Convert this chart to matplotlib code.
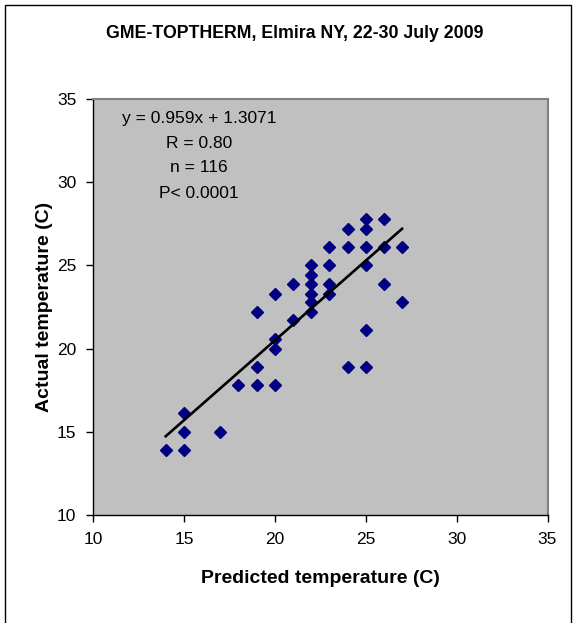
import numpy as np
import matplotlib.pyplot as plt
from matplotlib.patches import Rectangle

plt.rcParams['font.family'] = ['Liberation Sans', 'DejaVu Sans']

# predicted vs measured temperatures (distinct points shown on the chart)
predicted = [14, 15, 15, 15, 17, 18, 19, 20, 19, 19, 20, 20, 20, 21, 21,
             22, 22, 22, 22, 22, 22, 23, 23, 23, 23, 24, 24, 24,
             25, 25, 25, 25, 25, 25, 26, 26, 26, 27, 27]
actual = [13.9, 13.9, 15.0, 16.1, 15.0, 17.8, 17.8, 17.8, 18.9, 22.2, 20.0, 20.6, 23.3, 21.7, 23.9,
          22.2, 22.8, 23.3, 23.9, 24.4, 25.0, 23.3, 23.9, 25.0, 26.1, 18.9, 26.1, 27.2,
          18.9, 21.1, 25.0, 26.1, 27.2, 27.8, 23.9, 26.1, 27.8, 22.8, 26.1]

slope = 0.959
intercept = 1.3071
stats_lines = ["y = 0.959x + 1.3071", "R = 0.80", "n = 116", "P< 0.0001"]
ticks = [10, 15, 20, 25, 30, 35]

fig = plt.figure(figsize=(5.77, 6.23), dpi=100)
fig.patch.set_facecolor('white')

# chart-area frame
fig.patches.append(Rectangle((5 / 577, -0.05), 566 / 577, 1 - 5 / 623 + 0.05,
                             transform=fig.transFigure, fill=False,
                             edgecolor='black', linewidth=1.0))

ax = fig.add_axes([93 / 577, 1 - 515 / 623, (547.5 - 93) / 577, (515 - 99) / 623])
ax.set_facecolor('#C0C0C0')

ax.plot(predicted, actual, linestyle='none', marker='D', markersize=6.2,
        color='#000080', markeredgecolor='#000080', zorder=3)

xfit = np.array([min(predicted), max(predicted)])
ax.plot(xfit, slope * xfit + intercept, color='black', linewidth=1.9, zorder=4)

ax.set_xlim(10, 35)
ax.set_ylim(10, 35)
ax.set_xticks(ticks)
ax.set_yticks(ticks)
ax.tick_params(direction='out', length=5, width=1, labelsize=12.5, pad=7)

for side in ['top', 'right']:
    ax.spines[side].set_color('#808080')
    ax.spines[side].set_linewidth(1.5)
for side in ['left', 'bottom']:
    ax.spines[side].set_color('black')
    ax.spines[side].set_linewidth(1.0)

ax.set_xlabel('Predicted temperature (C)', fontsize=14, fontweight='bold', labelpad=17)
ax.set_ylabel('Actual temperature (C)', fontsize=14, fontweight='bold', labelpad=3)

for i, line in enumerate(stats_lines):
    fig.text(199 / 577, 1 - (118 + 25 * i) / 623, line, ha='center', va='center',
             fontsize=12.5)

fig.text(295 / 577, 1 - 33 / 623, 'GME-TOPTHERM, Elmira NY, 22-30 July 2009',
         ha='center', va='center', fontsize=12.8, fontweight='bold')

fig.savefig('out.png', dpi=100)
